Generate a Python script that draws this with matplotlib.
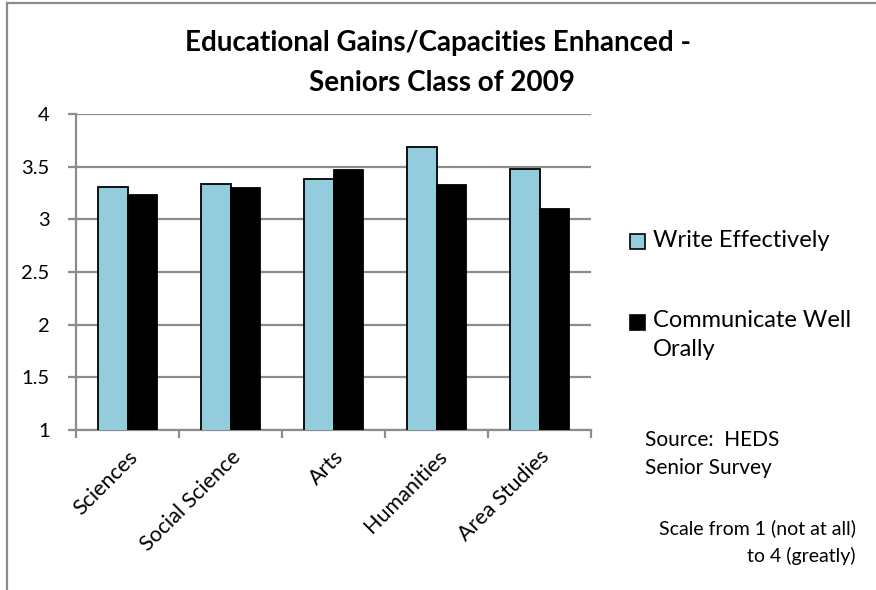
import matplotlib
matplotlib.use('Agg')
import matplotlib.pyplot as plt
import numpy as np
from matplotlib.lines import Line2D
from matplotlib.patches import Rectangle

plt.rcParams['font.family'] = ['Lato', 'DejaVu Sans']

categories = ['Sciences', 'Social Science', 'Arts', 'Humanities', 'Area Studies']
write_eff = [3.31, 3.34, 3.38, 3.69, 3.48]
oral = [3.23, 3.30, 3.465, 3.325, 3.10]
series_names = ['Write Effectively', 'Communicate Well\nOrally']
yticks = [1, 1.5, 2, 2.5, 3, 3.5, 4]
ytick_labels = ['1', '1.5', '2', '2.5', '3', '3.5', '4']

BLUE = '#93CDDD'
GRID = '#8c8c8c'
W, H = 876, 590

fig = plt.figure(figsize=(W / 100, H / 100), dpi=100)
ax = fig.add_axes([0.0868, 0.2712, 0.5879, 0.5356])

x = np.arange(len(categories))
w = 0.289
ax.bar(x - w / 2, write_eff, w, color=BLUE, edgecolor='black', lw=1.3, zorder=3)
ax.bar(x + w / 2, oral, w, color='black', edgecolor='black', lw=1.3, zorder=3)

ax.set_ylim(1, 4)
ax.set_xlim(-0.5, len(categories) - 0.5)
ax.set_yticks(yticks)
ax.set_yticklabels(ytick_labels, fontsize=14.5)
ax.yaxis.grid(True, color=GRID, lw=1.6, zorder=0)
ax.set_axisbelow(True)

ax.set_xticks(x)
ax.set_xticklabels(categories, rotation=45, ha='right', rotation_mode='anchor', fontsize=15.5)
ax.tick_params(axis='x', length=0, pad=12)
ax.set_xticks(np.arange(-0.5, len(categories)), minor=True)
ax.tick_params(axis='x', which='minor', length=6, color=GRID, width=1.6)
ax.tick_params(axis='y', length=6, color=GRID, width=1.6, pad=13)

for s in ['top', 'right']:
    ax.spines[s].set_visible(False)
for s in ['left', 'bottom']:
    ax.spines[s].set_color(GRID)
    ax.spines[s].set_linewidth(1.6)

fig.text(0.5, 0.927, 'Educational Gains/Capacities Enhanced -', ha='center', va='center',
         fontsize=20, fontweight='bold')
fig.text(0.505, 0.859, 'Seniors Class of 2009', ha='center', va='center',
         fontsize=20, fontweight='bold')

# legend by hand: the black key sits next to the first line of a two-line label
for y_px, color, name in [(242, BLUE, series_names[0]), (322, 'black', series_names[1])]:
    fig.add_artist(Rectangle((630 / W, 1 - (y_px + 7.5) / H), 15 / W, 15 / H,
                             facecolor=color, edgecolor='black', lw=1.2,
                             transform=fig.transFigure))
    fig.text(653 / W, 1 - (y_px - 12) / H, name, ha='left', va='top',
             fontsize=17, linespacing=1.5)

fig.text(0.736, 0.2305, 'Source:  HEDS\nSenior Survey', ha='left', va='center',
         fontsize=15, linespacing=1.55)
fig.text(0.977, 0.081, 'Scale from 1 (not at all)\nto 4 (greatly)', ha='right', va='center',
         fontsize=14, linespacing=1.68)

# chart-area border (top and left edges visible in the crop)
fig.add_artist(Line2D([0.008, 1.0], [0.995, 0.995], color=GRID, lw=1.6))
fig.add_artist(Line2D([0.008, 0.008], [0.0, 0.995], color=GRID, lw=1.6))

fig.savefig('out.png', dpi=100)
